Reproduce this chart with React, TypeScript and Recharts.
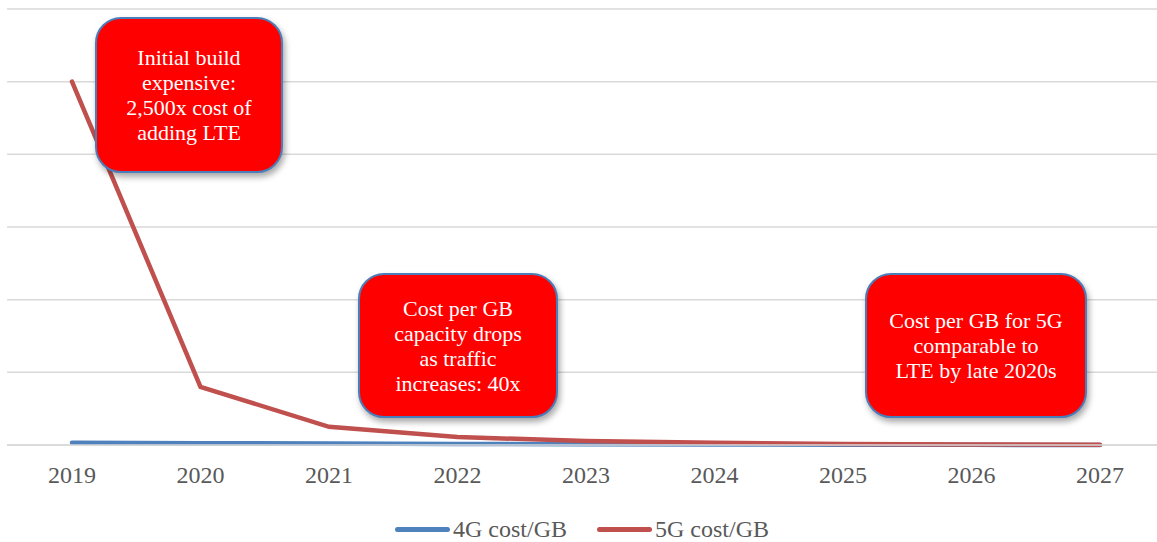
import React from "react";
import {
	CartesianGrid,
	Legend,
	Line,
	LineChart,
	XAxis,
	YAxis,
} from "recharts";

const years = ["2019", "2020", "2021", "2022", "2023", "2024", "2025", "2026", "2027"];
const cost4G = [0.03, 0.025, 0.02, 0.015, 0.01, 0.007, 0.004, 0.002, 0.001];
const cost5G = [5.0, 0.8, 0.25, 0.11, 0.055, 0.03, 0.015, 0.008, 0.004];
const yTicks = [0, 1, 2, 3, 4, 5, 6];

const seriesNames = { g4: "4G cost/GB", g5: "5G cost/GB" };
const colors = { g4: "#4f81bd", g5: "#c0504d" };

const callouts = [
	{ left: 95, top: 17, width: 188, height: 156, lines: ["Initial build", "expensive:", "2,500x cost of", "adding LTE"] },
	{ left: 358, top: 273, width: 200, height: 145, lines: ["Cost per GB", "capacity drops", "as traffic", "increases: 40x"] },
	{ left: 865, top: 273, width: 222, height: 145, lines: ["Cost per GB for 5G", "comparable to", "LTE by late 2020s"] },
];

const data = years.map((year, i) => ({ year, g4: cost4G[i], g5: cost5G[i] }));

const FONT = "'Liberation Serif', 'DejaVu Serif', serif";

function LegendContent() {
	return (
		<div style={{ display: "flex", justifyContent: "center", alignItems: "center", gap: 30, marginTop: 6, fontFamily: FONT, fontSize: 24, color: "#595959" }}>
			{(["g4", "g5"] as const).map((key) => (
				<div key={key} style={{ display: "flex", alignItems: "center" }}>
					<div style={{ width: 55, height: 5, borderRadius: 3, background: colors[key], marginRight: 3 }} />
					<span>{seriesNames[key]}</span>
				</div>
			))}
		</div>
	);
}

export default function App() {
	return (
		<div style={{ position: "absolute", left: 0, top: 0, width: 1157, height: 542, background: "#fff" }}>
			<LineChart width={1157} height={542} data={data} margin={{ top: 9, right: 0, left: 7, bottom: 2 }}>
				<CartesianGrid vertical={false} stroke="#d9d9d9" strokeWidth={1.5} />
				<XAxis
					dataKey="year"
					padding={{ left: 65, right: 57 }}
					height={65}
					tickLine={false}
					tickSize={0}
					tickMargin={21}
					axisLine={{ stroke: "#d9d9d9", strokeWidth: 1.5 }}
					tick={{ fill: "#595959", fontSize: 24, fontFamily: FONT }}
				/>
				<YAxis hide domain={[0, 6]} ticks={yTicks} />
				<Legend verticalAlign="bottom" height={30} content={<LegendContent />} />
				<Line dataKey="g4" name={seriesNames.g4} stroke={colors.g4} strokeWidth={4.5} strokeLinecap="round" dot={false} type="linear" isAnimationActive={false} />
				<Line dataKey="g5" name={seriesNames.g5} stroke={colors.g5} strokeWidth={4.5} strokeLinecap="round" dot={false} type="linear" isAnimationActive={false} />
			</LineChart>
			{callouts.map((c) => (
				<div
					key={c.lines[0] + c.left}
					style={{
						position: "absolute",
						left: c.left,
						top: c.top,
						width: c.width,
						height: c.height,
						boxSizing: "border-box",
						background: "#ff0000",
						border: "2px solid #4a7ebb",
						borderRadius: 26,
						boxShadow: "2px 4px 6px rgba(0,0,0,0.35)",
						display: "flex",
						flexDirection: "column",
						justifyContent: "center",
						alignItems: "center",
						color: "#fff",
						fontFamily: FONT,
						fontSize: 22,
						lineHeight: "25px",
						textAlign: "center",
					}}
				>
					{c.lines.map((line) => (
						<div key={line}>{line}</div>
					))}
				</div>
			))}
		</div>
	);
}
